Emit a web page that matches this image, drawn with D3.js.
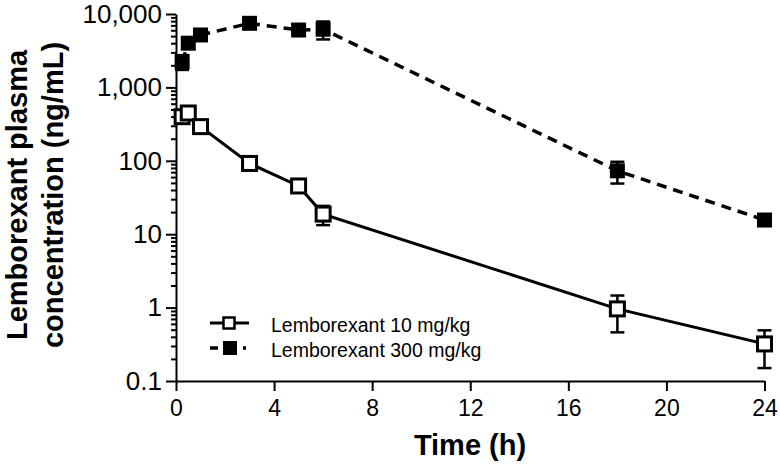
<!DOCTYPE html>
<html>
<head>
<meta charset="utf-8">
<script src="https://cdn.jsdelivr.net/npm/d3@7"></script>
<style>
  html, body { margin: 0; padding: 0; background: #fff; }
  svg { display: block; font-family: "Liberation Sans", Arial, sans-serif; }
</style>
</head>
<body>
<svg id="chart" width="780" height="466"></svg>
<script>
// ---- Data ----
const times = [0.25, 0.5, 1, 3, 5, 6, 18, 24];
const low_mean = [399, 448, 292, 92, 45.4, 18.8, 0.96, 0.32];
const low_sd   = [60, 60, 40, 12, 6, 5.5, 0.5, 0.17];
const high_mean = [2240, 4000, 5180, 7470, 6050, 6200, 73, 15.6];
const high_sd   = [510, 600, 500, 600, 500, 1700, 24, 2];
const seriesNames = ["Lemborexant 10 mg/kg", "Lemborexant 300 mg/kg"];
const xTicks = [0, 4, 8, 12, 16, 20, 24];
const yTicks = [0.1, 1, 10, 100, 1000, 10000];
const yTickLabels = ["0.1", "1", "10", "100", "1,000", "10,000"];

// ---- Scales ----
const svg = d3.select("#chart");
const x = d3.scaleLinear().domain([0, 24]).range([176, 764.5]);
const y = d3.scaleLog().domain([0.1, 10000]).range([381, 14]);

// ---- Axes ----
const minorTicks = [];
for (let d = 0.1; d < 10000; d *= 10) {
  for (let k = 2; k <= 9; k++) minorTicks.push(+(d * k).toPrecision(3));
}

const gy = svg.append("g").attr("transform", `translate(${x(0)},0)`)
  .call(d3.axisLeft(y).tickValues(yTicks)
    .tickFormat((d, i) => yTickLabels[i]).tickSize(10).tickSizeOuter(0).tickPadding(4));
gy.selectAll("text").attr("font-size", 26).attr("fill", "#000")
  .attr("font-family", "'Liberation Sans', Arial, sans-serif");
const gyMinor = svg.append("g").attr("transform", `translate(${x(0)},0)`)
  .call(d3.axisLeft(y).tickValues(minorTicks).tickFormat("").tickSize(5).tickSizeOuter(0));
gyMinor.select(".domain").remove();

const gx = svg.append("g").attr("transform", `translate(0,${y(0.1)})`)
  .call(d3.axisBottom(x).tickValues(xTicks).tickSize(10).tickSizeOuter(0).tickPadding(9));
gx.selectAll("text").attr("font-size", 23).attr("fill", "#000")
  .attr("font-family", "'Liberation Sans', Arial, sans-serif");

svg.selectAll(".domain, .tick line").attr("stroke", "#000").attr("stroke-width", 2);

// ---- Axis titles ----
svg.append("text").attr("x", 470).attr("y", 455)
  .attr("text-anchor", "middle").attr("font-weight", "bold").attr("font-size", 29)
  .text("Time (h)");

const yt = svg.append("text").attr("transform", "translate(27,195) rotate(-90)")
  .attr("text-anchor", "middle").attr("font-weight", "bold").attr("font-size", 29);
yt.append("tspan").attr("x", 0).attr("y", 0).text("Lemborexant plasma");
yt.append("tspan").attr("x", 0).attr("y", 36).text("concentration (ng/mL)");

// ---- Series ----
const low = times.map((t, i) => ({ t, m: low_mean[i], sd: low_sd[i] }));
const high = times.map((t, i) => ({ t, m: high_mean[i], sd: high_sd[i] }));

function errorBars(data) {
  const g = svg.append("g").attr("stroke", "#000").attr("stroke-width", 2.5);
  data.forEach(d => {
    const lo = Math.max(d.m - d.sd, 0.11), hi = d.m + d.sd;
    g.append("line").attr("x1", x(d.t)).attr("x2", x(d.t)).attr("y1", y(lo)).attr("y2", y(hi));
    g.append("line").attr("x1", x(d.t) - 7).attr("x2", x(d.t) + 7).attr("y1", y(lo)).attr("y2", y(lo));
    g.append("line").attr("x1", x(d.t) - 7).attr("x2", x(d.t) + 7).attr("y1", y(hi)).attr("y2", y(hi));
  });
}
errorBars(low);
errorBars(high);

const line = d3.line().x(d => x(d.t)).y(d => y(d.m));
svg.append("path").datum(low).attr("d", line)
  .attr("fill", "none").attr("stroke", "#000").attr("stroke-width", 3);
svg.append("path").datum(high).attr("d", line)
  .attr("fill", "none").attr("stroke", "#000").attr("stroke-width", 3.5)
  .attr("stroke-dasharray", "10,7");

svg.append("g").selectAll("rect").data(low).join("rect")
  .attr("x", d => x(d.t) - 7).attr("y", d => y(d.m) - 7)
  .attr("width", 14).attr("height", 14)
  .attr("fill", "#fff").attr("stroke", "#000").attr("stroke-width", 3);
svg.append("g").selectAll("rect").data(high).join("rect")
  .attr("x", d => x(d.t) - 7.5).attr("y", d => y(d.m) - 7.5)
  .attr("width", 15).attr("height", 15).attr("fill", "#000");

// ---- Legend ----
const lg = svg.append("g");
// row 1
lg.append("line").attr("x1", 210).attr("x2", 249).attr("y1", 323).attr("y2", 323)
  .attr("stroke", "#000").attr("stroke-width", 3);
lg.append("rect").attr("x", 223.5).attr("y", 317.5).attr("width", 11).attr("height", 11)
  .attr("fill", "#fff").attr("stroke", "#000").attr("stroke-width", 2.5);
lg.append("text").attr("x", 271).attr("y", 332).attr("font-size", 19.5).text(seriesNames[0]);
// row 2
lg.append("line").attr("x1", 210).attr("x2", 249).attr("y1", 348).attr("y2", 348)
  .attr("stroke", "#000").attr("stroke-width", 3.5).attr("stroke-dasharray", "8,25,3,10");
lg.append("rect").attr("x", 223).attr("y", 341).attr("width", 14).attr("height", 14).attr("fill", "#000");
lg.append("text").attr("x", 271).attr("y", 357).attr("font-size", 19.5).text(seriesNames[1]);
</script>
</body>
</html>
